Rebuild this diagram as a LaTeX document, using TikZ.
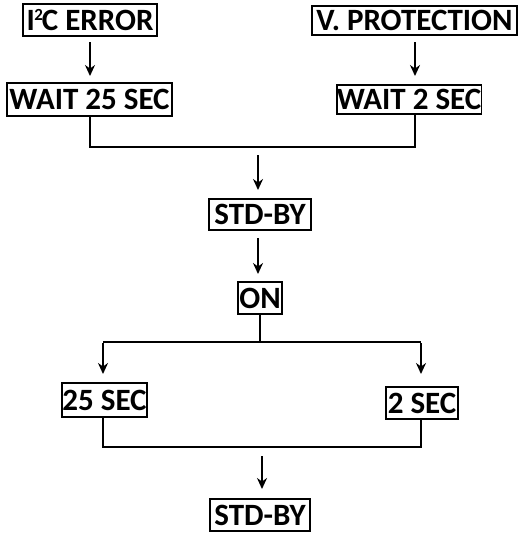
\documentclass[tikz,border=0pt]{standalone}
\usepackage{fontspec}
\setmainfont{Carlito}
\usetikzlibrary{arrows.meta,calc}
\begin{document}
\begin{tikzpicture}[x=1pt,y=-1pt,
  box/.style={draw,line width=1.5pt,inner sep=0pt,align=center,
    font=\bfseries\fontsize{31}{31}\selectfont},
  conn/.style={line width=2.7pt},
  arr/.style={line width=2.7pt,-{Stealth[length=11pt,width=10pt]}}]
\useasboundingbox (0,0) rectangle (520,533);
\node[box,minimum width=134pt,minimum height=32pt] (err) at (90,20) {I\kern-0.5pt\raisebox{0.33em}{\fontsize{17}{17}\selectfont 2}\kern-1pt C ERROR};
\node[box,minimum width=205pt,minimum height=29pt] (vp) at (414.5,20.5) {V. PROTECTION};
\node[box,minimum width=165pt,minimum height=33pt] (w25) at (89.5,99.5) {WAIT 25 SEC};
\node[box,minimum width=144pt,minimum height=29pt] (w2) at (409,99.5) {WAIT 2 SEC};
\node[box,minimum width=102pt,minimum height=31pt] (sb1) at (260,214.5) {STD-BY};
\node[box,minimum width=44pt,minimum height=32pt] (on) at (260,298) {ON};
\node[box,minimum width=85pt,minimum height=34pt] (s25) at (104.5,400) {25 SEC};
\node[box,minimum width=72pt,minimum height=32pt] (s2) at (422,403) {2 SEC};
\node[box,minimum width=100pt,minimum height=32pt] (sb2) at (260,515) {STD-BY};
% top arrows
\coordinate (a1s) at (90,42); \coordinate (a1e) at (90,76);
\coordinate (a2s) at (415,42); \coordinate (a2e) at (415,76);
\draw[arr] (a1s) -- (a1e);
\draw[arr] (a2s) -- (a2e);
% merge
\coordinate (l1) at (90,116.5); \coordinate (r1) at (415,114);
\coordinate (j1l) at (90,147); \coordinate (j1r) at (415,147);
\draw[conn] (l1) -- (j1l) -- (j1r) -- (r1);
\coordinate (a3s) at (258,155); \coordinate (a3e) at (258,190);
\draw[arr] (a3s) -- (a3e);
\coordinate (a4s) at (258,238); \coordinate (a4e) at (258,274);
\draw[arr] (a4s) -- (a4e);
% split
\coordinate (j2) at (260,342);
\coordinate (j2l) at (103,342); \coordinate (j2r) at (421,342);
\draw[conn] (on.south) -- (j2);
\draw[conn] (j2l) -- (j2r);
\coordinate (a5e) at (103,374); \coordinate (a6e) at (421,374);
\draw[arr] ([yshift=-1.35pt]j2l) -- (a5e);
\draw[arr] ([yshift=-1.35pt]j2r) -- (a6e);
% merge 2
\coordinate (j3l) at (103,447); \coordinate (j3r) at (421,447);
\draw[conn] (s25.south -| j3l) -- (j3l) -- (j3r) -- (s2.south -| j3r);
\coordinate (a7s) at (262,456); \coordinate (a7e) at (262,489);
\draw[arr] (a7s) -- (a7e);
\end{tikzpicture}
\end{document}
